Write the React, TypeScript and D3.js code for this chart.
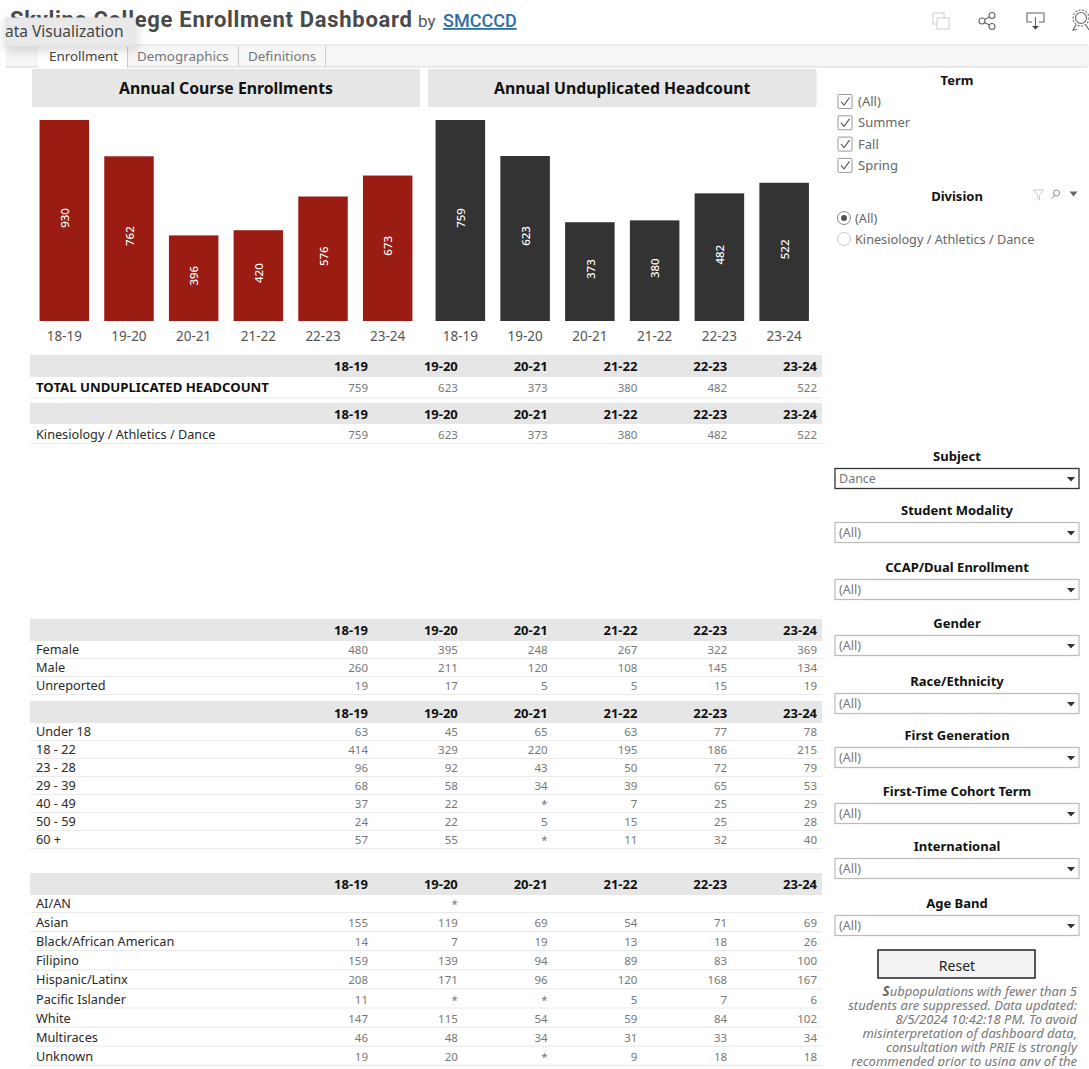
import React from "react";
import * as d3 from "d3";

const years = ["18-19", "19-20", "20-21", "21-22", "22-23", "23-24"];
const enrollments = [930, 762, 396, 420, 576, 673];
const headcount = [759, 623, 373, 380, 482, 522];

const totalRows: [string, string[]][] = [["TOTAL UNDUPLICATED HEADCOUNT", ["759", "623", "373", "380", "482", "522"]]];
const divisionRows: [string, string[]][] = [["Kinesiology / Athletics / Dance", ["759", "623", "373", "380", "482", "522"]]];
const genderRows: [string, string[]][] = [
  ["Female", ["480", "395", "248", "267", "322", "369"]],
  ["Male", ["260", "211", "120", "108", "145", "134"]],
  ["Unreported", ["19", "17", "5", "5", "15", "19"]],
];
const ageRows: [string, string[]][] = [
  ["Under 18", ["63", "45", "65", "63", "77", "78"]],
  ["18 - 22", ["414", "329", "220", "195", "186", "215"]],
  ["23 - 28", ["96", "92", "43", "50", "72", "79"]],
  ["29 - 39", ["68", "58", "34", "39", "65", "53"]],
  ["40 - 49", ["37", "22", "*", "7", "25", "29"]],
  ["50 - 59", ["24", "22", "5", "15", "25", "28"]],
  ["60 +", ["57", "55", "*", "11", "32", "40"]],
];
const raceRows: [string, string[]][] = [
  ["AI/AN", ["", "*", "", "", "", ""]],
  ["Asian", ["155", "119", "69", "54", "71", "69"]],
  ["Black/African American", ["14", "7", "19", "13", "18", "26"]],
  ["Filipino", ["159", "139", "94", "89", "83", "100"]],
  ["Hispanic/Latinx", ["208", "171", "96", "120", "168", "167"]],
  ["Pacific Islander", ["11", "*", "*", "5", "7", "6"]],
  ["White", ["147", "115", "54", "59", "84", "102"]],
  ["Multiraces", ["46", "48", "34", "31", "33", "34"]],
  ["Unknown", ["19", "20", "*", "9", "18", "18"]],
];
const termOptions = ["(All)", "Summer", "Fall", "Spring"];
const divisionOptions = ["(All)", "Kinesiology / Athletics / Dance"];
const dropdowns: [string, string, number, number][] = [
  ["Subject", "Dance", 456, 468],
  ["Student Modality", "(All)", 510, 522],
  ["CCAP/Dual Enrollment", "(All)", 567, 579],
  ["Gender", "(All)", 623, 635],
  ["Race/Ethnicity", "(All)", 681, 693],
  ["First Generation", "(All)", 735, 747],
  ["First-Time Cohort Term", "(All)", 791, 803],
  ["International", "(All)", 846, 858],
  ["Age Band", "(All)", 903, 915],
];
const footnote = [
  "ubpopulations with fewer than 5",
  "students are suppressed. Data updated:",
  "8/5/2024 10:42:18 PM.  To avoid",
  "misinterpretation of dashboard data,",
  "consultation with PRIE is strongly",
  "recommended prior to using any of the",
];

const FONT = "'Noto Sans', 'Open Sans', sans-serif";
const TITLE = "Roboto, sans-serif";

const colX = d3.scalePoint<string>().domain(years).range([368, 817]);

function BarPanel({ values, max, color, x0, x1, title }: { values: number[]; max: number; color: string; x0: number; x1: number; title: string }) {
  const x = d3.scaleBand<string>().domain(years).range([x0, x1]).paddingInner(0.235).paddingOuter(0.117);
  const yBar = d3.scaleLinear().domain([0, max]).range([321, 120]);
  return (
    <g>
      <rect x={x0} y={69} width={x1 - x0} height={38} fill="#e6e6e6" />
      <text x={(x0 + x1) / 2} y={94} textAnchor="middle" fontFamily={FONT} fontWeight={700} fontSize={15.8} fill="#111">{title}</text>
      {values.map((v, i) => {
        const bx = x(years[i])!;
        const cx = bx + x.bandwidth() / 2;
        const cy = (yBar(v) + yBar(0)) / 2 - 2.5;
        return (
          <g key={i}>
            <rect x={bx} y={yBar(v)} width={x.bandwidth()} height={yBar(0) - yBar(v)} fill={color} />
            <text transform={`translate(${cx + 4.7},${cy}) rotate(-90)`} textAnchor="middle" fontFamily={FONT} fontWeight={500} fontSize={11.5} fill="#fff">{v}</text>
            <text x={cx} y={341} textAnchor="middle" fontFamily={FONT} fontSize={13.5} fill="#555">{years[i]}</text>
          </g>
        );
      })}
    </g>
  );
}

function Table({ top, h, headY, rows, rowY, boldLabel, lineGap = 4.5 }: { top: number; h: number; headY: number; rows: [string, string[]][]; rowY: number[]; boldLabel?: boolean; lineGap?: number }) {
  return (
    <g>
      <rect x={30} y={top} width={792} height={h} fill="#e6e6e6" />
      {years.map((yr) => (
        <text key={yr} x={colX(yr)!} y={headY} textAnchor="end" fontFamily={FONT} fontWeight={700} fontSize={13} fill="#111">{yr}</text>
      ))}
      {rows.map(([label, vals], i) => (
        <g key={label}>
          <text x={36} y={rowY[i]} fontFamily={FONT} fontWeight={boldLabel ? 700 : 400} fontSize={boldLabel ? 13.2 : 12.7} fill={boldLabel ? "#111" : "#2a2a2a"}>{label}</text>
          {vals.map((v, j) => (
            <text key={j} x={colX(years[j])!} y={rowY[i]} textAnchor="end" fontFamily={FONT} fontSize={11.5} fill="#777">{v}</text>
          ))}
          <line x1={30} x2={822} y1={rowY[i] + lineGap} y2={rowY[i] + lineGap} stroke="#ebebeb" strokeWidth={1.2} />
        </g>
      ))}
    </g>
  );
}

function Dropdown({ title, value, ty, by }: { title: string; value: string; ty: number; by: number }) {
  const active = value !== "(All)";
  return (
    <g>
      <text x={957} y={ty + 5} textAnchor="middle" fontFamily={FONT} fontWeight={700} fontSize={13} fill="#111">{title}</text>
      <rect x={835} y={by + 0.5} width={244} height={20} fill="#fff" stroke={active ? "#333" : "#bbb"} strokeWidth={active ? 1.3 : 1.2} />
      <text x={839} y={by + 15} fontFamily={FONT} fontSize={12.5} fill="#777">{value}</text>
      <path d={`M1067 ${by + 9}h8l-4 4.5z`} fill="#333" />
    </g>
  );
}

const seq = (start: number, step: number, n: number) => d3.range(n).map((i) => start + step * i);

export default function App() {
  return (
    <div style={{ position: "fixed", left: 0, top: 0 }}>
      <svg width={1089} height={1069} viewBox="0 0 1089 1069" style={{ display: "block", background: "#fff" }}>
        <defs>
          <filter id="sh" x="-20%" y="-40%" width="140%" height="200%">
            <feDropShadow dx={0} dy={3} stdDeviation={6} floodColor="#000" floodOpacity={0.18} />
          </filter>
          <clipPath id="foot"><rect x={820} y={980} width={269} height={86} /></clipPath>
        </defs>

        {/* Header */}
        <text x={10} y={27} fontFamily={TITLE} fontWeight={700} fontSize={22} letterSpacing={0.71} fill="#4a4a4a">Skyline College Enrollment Dashboard</text>
        <text x={418} y={27} fontFamily={TITLE} fontSize={17} fill="#555">by</text>
        <text x={443} y={27} fontFamily={TITLE} fontWeight={500} fontSize={18} fill="#2f6ea5" textDecoration="underline">SMCCCD</text>

        {/* Toolbar icons */}
        <g fill="none" stroke="#d4d4d4" strokeWidth={1.2}>
          <rect x={933} y={13} width={11} height={11} />
          <rect x={937} y={18} width={12} height={11} fill="#fff" />
        </g>
        <g fill="none" stroke="#666" strokeWidth={1.1}>
          <circle cx={982} cy={21} r={3} /><circle cx={992} cy={15.5} r={3} /><circle cx={992} cy={26.5} r={3} />
          <path d="M984.6 19.5L989.4 17M984.6 22.5L989.4 25" />
          <path d="M1032 22h-5v-9h17v9h-5M1035.5 17v10" />
          <circle cx={1081} cy={18} r={5.5} /><circle cx={1081} cy={18} r={8} strokeDasharray="2 1.5" />
          <path d="M1076 25l-3 5 4-.5M1086 25l3 5" />
        </g>
        <path d="M1032 26h7l-3.5 3.5z" fill="#444" />

        {/* Tab strip */}
        <rect x={6} y={45} width={1083} height={22} fill="#f6f6f6" />
        <line x1={6} x2={1087} y1={45} y2={45} stroke="#ddd" />
        <line x1={6} x2={1087} y1={67} y2={67} stroke="#d8d8d8" />
        <rect x={38} y={46} width={89} height={22} fill="#fff" />
        <line x1={127.5} x2={127.5} y1={46} y2={67} stroke="#ccc" />
        <line x1={238.5} x2={238.5} y1={46} y2={67} stroke="#ccc" />
        <line x1={325.5} x2={325.5} y1={46} y2={67} stroke="#ccc" />
        <text x={49} y={61} fontFamily={FONT} fontSize={13.4} fill="#444">Enrollment</text>
        <text x={137} y={61} fontFamily={FONT} fontSize={13.4} fill="#777">Demographics</text>
        <text x={248} y={61} fontFamily={FONT} fontSize={13.4} fill="#777">Definitions</text>

        {/* Tooltip */}
        <rect x={6} y={18} width={129} height={28} fill="#e9e9e9" stroke="#e0e0e0" filter="url(#sh)" />
        <text x={5} y={37} fontFamily={FONT} fontSize={15.5} fill="#444">ata Visualization</text>

        {/* Bars */}
        <BarPanel values={enrollments} max={930} color="#9a1c13" x0={32} x1={420} title="Annual Course Enrollments" />
        <BarPanel values={headcount} max={759} color="#333333" x0={428} x1={816.5} title="Annual Unduplicated Headcount" />

        {/* Tables */}
        <Table top={355} h={22} headY={371} rows={totalRows} rowY={[392]} boldLabel lineGap={6} />
        <Table top={403} h={21} headY={419} rows={divisionRows} rowY={[439]} />
        <Table top={619} h={22} headY={635} rows={genderRows} rowY={seq(654, 18, 3)} />
        <Table top={701} h={22} headY={718} rows={ageRows} rowY={seq(736, 18, 7)} />
        <Table top={873} h={22} headY={889} rows={raceRows} rowY={seq(908, 19.1, 9)} />

        {/* Term filter */}
        <text x={957} y={85} textAnchor="middle" fontFamily={FONT} fontWeight={700} fontSize={13} fill="#111">Term</text>
        {termOptions.map((t, i) => {
          const cy = 101.5 + i * 21.3;
          return (
            <g key={t}>
              <rect x={838} y={cy - 7} width={14} height={14} rx={1} fill="#fff" stroke="#999" />
              <path d={`M841 ${cy}l3 3.5l5.5 -7.5`} fill="none" stroke="#555" strokeWidth={1.1} />
              <text x={858} y={cy + 4.5} fontFamily={FONT} fontSize={13} fill="#666">{t}</text>
            </g>
          );
        })}

        {/* Division filter */}
        <text x={957} y={201} textAnchor="middle" fontFamily={FONT} fontWeight={700} fontSize={13} fill="#111">Division</text>
        <path d="M1033.5 190h10l-4 5v5l-2 -1.5v-3.5z" fill="none" stroke="#ccc" />
        <circle cx={1056.5} cy={193} r={3} fill="none" stroke="#888" /><path d="M1054.5 195.5l-2.5 3" stroke="#888" />
        <path d="M1069.5 191.5h8l-4 5z" fill="#666" />
        {divisionOptions.map((t, i) => {
          const cy = 218 + i * 21;
          return (
            <g key={t}>
              <circle cx={844} cy={cy} r={6.5} fill="#fff" stroke={i === 0 ? "#888" : "#ccc"} />
              {i === 0 && <circle cx={844} cy={cy} r={3} fill="#555" />}
              <text x={855} y={cy + 4.5} fontFamily={FONT} fontSize={12.7} fill="#666">{t}</text>
            </g>
          );
        })}

        {dropdowns.map(([t, v, ty, by]) => <Dropdown key={t} title={t} value={v} ty={ty} by={by} />)}

        {/* Reset */}
        <rect x={878} y={950} width={157} height={28} fill="#f3f3f3" stroke="#222" strokeWidth={1.5} />
        <text x={957} y={971} textAnchor="middle" fontFamily={FONT} fontSize={14} fill="#222">Reset</text>

        {/* Footnote */}
        <g clipPath="url(#foot)">
          {footnote.map((l, i) => (
            <text key={i} x={1077} y={996 + i * 14} textAnchor="end" fontFamily={FONT} fontStyle="italic" fontSize={13} fill="#777">
              {i === 0 && <tspan fontWeight={700} fontSize={13.5} fill="#666">S</tspan>}
              {l}
            </text>
          ))}
        </g>
      </svg>
    </div>
  );
}
